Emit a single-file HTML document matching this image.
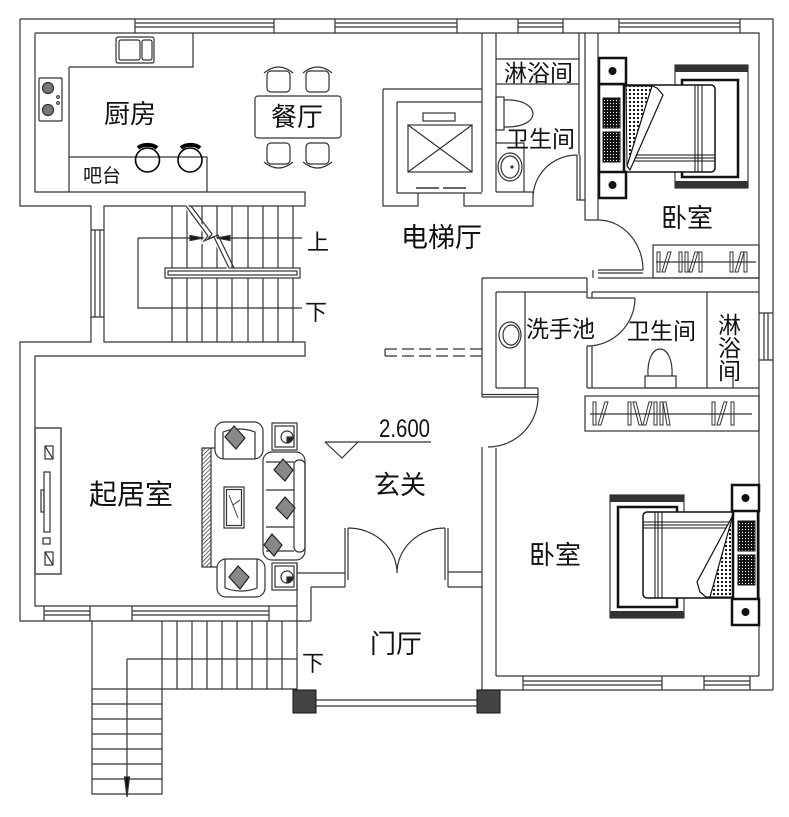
<!DOCTYPE html>
<html><head><meta charset="utf-8"><style>
html,body{margin:0;padding:0;background:#fff;}
svg{display:block}
text{font-family:"Liberation Sans","Noto Sans CJK SC",sans-serif;fill:#111}
</style></head><body>
<svg width="789" height="817" viewBox="0 0 789 817" xmlns="http://www.w3.org/2000/svg">
<defs>
<pattern id="dots" width="4" height="4" patternUnits="userSpaceOnUse"><rect width="4" height="4" fill="#fff"/><circle cx="2" cy="2" r="1.1" fill="#000"/></pattern>
<pattern id="dark" width="3" height="3" patternUnits="userSpaceOnUse"><rect width="3" height="3" fill="#111"/><circle cx="1.5" cy="1.5" r="0.6" fill="#fff"/></pattern>
<pattern id="hatch" width="3" height="3" patternUnits="userSpaceOnUse" patternTransform="rotate(45)"><rect width="3" height="3" fill="#fff"/><line x1="0" y1="0" x2="0" y2="3" stroke="#222" stroke-width="1.3"/></pattern>
</defs>
<rect width="789" height="817" fill="#fff"/>
<g fill="none" stroke="#333" stroke-width="1.2">
<!-- outer/inner walls -->
<path d="M20,19 H773 V690 M20,19 V206 H91 V342 H20 V621 H311
M35,33 H759 V676 M35,33 V192 H305 V206 H104 V342 H305 V356 H35 V606 H297
M135,19 V33 M274,19 V33 M135,23 H274 M135,27 H274
M335,19 V33 M457,19 V33 M335,23 H457 M335,27 H457
M518,19 V33 M563,19 V33 M518,23 H563 M518,27 H563
M619,19 V33 M740,19 V33 M619,23 H740 M619,27 H740
M95,230 V317 M100,230 V317 M91,230 H104 M91,317 H104
M44,606 V621 M90,606 V621 M132,606 V621 M269,606 V621 M44,611 H90 M44,615 H90 M132,611 H269 M132,615 H269
M759,313 H773 M759,360 H773 M764,313 V360 M768,313 V360
M496,676 H759 M482,690 H773
M523,676 V690 M662,676 V690 M523,681 H662 M523,685 H662
M704,676 V690 M750,676 V690 M704,681 H750 M704,685 H750"/>
<!-- entry -->
<path d="M297,563 V690 M297,573 H345 M311,587 H345 M311,587 V621 M345,528 V587 M348,528 V580 M445,528 V580 M448,528 V587 M448,572 H482 M448,587 H482
M348,528 A49,45 0 0 1 397,573 M445,528 A48,45 0 0 0 397,573
M316,700 H477 M316,706 H477"/>
<!-- elevator, baths -->
<path d="M482,33 V192 M496,33 V192
M383,89 H482 M383,89 V206 H418 V193 M464,193 V206 H533 V192 H496
M397,102 H482 M397,102 V193 H482
M579,33 V155 M585,33 V220 H598 M598,33 V220
M577,155 V200 H585 M580,155 V200
M577,155 A44,43 0 0 0 533,198
M496,59 H579 M496,84 H579
M496,143 H524 V192
M598,220 A45,50 0 0 1 643,270 M598,270 H643 M598,273 H643 M593,270 V278
M482,278 H587 M598,278 H759 M496,292 H587 M592,292 H759 M587,278 V298 M592,292 V298
M587,298 H635 M635,298 A48,48 0 0 1 587,346 M587,346 V388 M592,346 V388
M482,278 V397 M482,447 V690 M496,292 V388 M496,448 V676
M525,292 V388 M496,388 H538 M587,388 H759 M538,388 V397 M482,397 H538 M482,394.5 H538
M538,397 A50,50 0 0 1 488,447
M707,292 V388 M733,376 V388"/>
<rect x="408" y="125" width="64" height="47"/>
<path d="M408,125 L472,172 M472,125 L408,172"/>
<rect x="423" y="113" width="32" height="8"/>
<path d="M416,188 H439 M443,188 H466" stroke-width="1.6"/>
<!-- toilet upper -->
<rect x="496" y="97" width="8" height="33"/>
<path d="M504,100 C540,98 545,128 504,127"/>
<ellipse cx="510" cy="167" rx="12" ry="14"/>
<ellipse cx="510" cy="167" rx="9" ry="11"/>
<circle cx="512" cy="167" r="1" fill="#333"/>
<!-- lower washbasin -->
<ellipse cx="510" cy="335" rx="11" ry="13"/>
<ellipse cx="511" cy="335" rx="8" ry="10"/>
<!-- toilet lower -->
<rect x="645" y="376" width="31" height="12"/>
<path d="M648,376 C646,340 674,340 672,376"/>
<!-- wardrobes -->
<rect x="653" y="245" width="106" height="33"/>
<path d="M656,262 H756"/>
<rect x="585" y="396" width="174" height="35"/>
<path d="M590,414 H752"/>
<g stroke-width="1">
<rect x="657" y="252" width="3" height="20"/><polygon points="662,272 665,272 671,252 668,252"/>
<rect x="679" y="252" width="3" height="20"/><rect x="685" y="252" width="3" height="20"/><polygon points="689,272 692,272 698,252 695,252"/><rect x="699" y="252" width="3" height="20"/>
<rect x="730" y="252" width="3" height="20"/><polygon points="735,272 738,272 744,252 741,252"/><rect x="744" y="252" width="3" height="20"/>
<rect x="593" y="402" width="3" height="23"/><polygon points="598,425 601,425 608,402 605,402"/>
<rect x="628" y="402" width="3" height="23"/><polygon points="633,402 636,402 642,425 639,425"/><polygon points="643,425 646,425 652,402 649,402"/><rect x="654" y="402" width="3" height="23"/><rect x="660" y="402" width="3" height="23"/><polygon points="663,402 666,402 670,425 667,425"/>
<rect x="712" y="402" width="3" height="23"/><polygon points="717,425 720,425 727,402 724,402"/><rect x="731" y="402" width="3" height="23"/>
</g>
<!-- kitchen -->
<path d="M69,67 H193 V33 M69,67 V192 M69,157 H207 V192"/>
<rect x="116" y="37" width="38" height="26" rx="2"/>
<rect x="119" y="40" width="21" height="20" rx="2"/>
<rect x="142" y="40" width="10" height="20" rx="2"/>
<rect x="39" y="78" width="23" height="43" rx="1"/>
<circle cx="48" cy="88" r="5.5" fill="#777"/>
<circle cx="48" cy="110" r="5.5" fill="#777"/>
<circle cx="58" cy="97" r="1.3"/><circle cx="58" cy="103" r="1.3"/>
<circle cx="147.5" cy="160" r="12" stroke="#000" stroke-width="1.6"/>
<circle cx="190" cy="160" r="12" stroke="#000" stroke-width="1.6"/>
<path d="M138,148 A12,8 0 0 1 157,148 M181,148 A12,8 0 0 1 200,148" stroke="#000" stroke-width="4"/>
<!-- dining -->
<rect x="255" y="96" width="86" height="42" rx="3"/>
<rect x="267" y="71" width="23" height="21" rx="4"/><path d="M264,73 Q278.5,61 293,73"/>
<rect x="306" y="71" width="23" height="21" rx="4"/><path d="M303,73 Q317.5,61 332,73"/>
<rect x="267" y="143" width="23" height="21" rx="4"/><path d="M264,162 Q278.5,174 293,162"/>
<rect x="306" y="143" width="23" height="21" rx="4"/><path d="M303,162 Q317.5,174 332,162"/>
<!-- interior stairs -->
<path d="M172,206 V342 M187,206 V342 M202,206 V342 M217,206 V342 M232,206 V342 M248,206 V342 M263,206 V342 M278,206 V342 M293,206 V342"/>
<path d="M138,238 H302 M138,238 V308 H302"/>
<rect x="165" y="268" width="135" height="10" fill="#fff"/>
<rect x="168" y="271" width="129" height="4"/>
<polyline points="186,206 208,236 204,241 214,237 229,268" stroke="#fff" stroke-width="4"/>
<polyline points="186,206 208,236 204,241 214,237 229,268"/>
<polyline points="191,206 212,234 208,239 218,235 234,268"/>
<polygon points="190,235.5 190,240.5 203,238" fill="#111"/>
<polygon points="230,235.5 230,240.5 217,238" fill="#111"/>
<!-- outside stairs -->
<path d="M92,621 V794 H162 V621 M92,689 H297 M92,704 H162 M92,719 H162 M92,734 H162 M92,749 H162 M92,764 H162 M92,779 H162
M177,621 V689 M192,621 V689 M207,621 V689 M222,621 V689 M237,621 V689 M252,621 V689 M267,621 V689 M282,621 V689
M127,659 H297 M127,659 V790"/>
<polygon points="124.5,777 129.5,777 127,797" fill="#111"/>
<!-- lobby dashed -->
<path d="M385,349 V356" />
<path d="M385,349 H482 M385,356 H482" stroke-dasharray="12 5"/>
<!-- level mark -->
<path d="M325,442 H431 M325,442 L342,458 L358,442"/>
<!-- TV -->
<rect x="35" y="428" width="26" height="146" stroke="#555" stroke-width="1.6"/>
<rect x="45" y="446" width="8" height="13"/><path d="M45,446 L53,459"/>
<rect x="45" y="552" width="8" height="13"/><path d="M45,552 L53,565"/>
<rect x="44" y="472" width="6" height="60"/>
<rect x="41" y="490" width="3" height="22"/>
<rect x="43" y="538" width="7" height="6"/>
<!-- living furniture -->
<rect x="202" y="448" width="9" height="119" fill="url(#hatch)"/>
<path d="M211,448 H216 M211,567 H218"/>
<rect x="224" y="487" width="20" height="41"/>
<rect x="226.5" y="489.5" width="15" height="36"/>
<path d="M229,495 L238,518 M233,505 L240,500" stroke-width="0.9"/>
<rect x="215" y="422" width="48" height="37" rx="9" fill="#fff"/>
<path d="M223,459 V432 Q239,426 255,432 V459"/>
<polygon points="234,426 245,438 236,449 225,437" fill="#888" stroke="#222"/>
<rect x="217" y="559" width="48" height="38" rx="9" fill="#fff"/>
<path d="M225,559 V588 Q241,594 257,588 V559"/>
<polygon points="238,566 249,577 240,589 229,577" fill="#888" stroke="#222"/>
<rect x="272" y="423" width="25" height="27"/><rect x="275" y="426" width="19" height="21"/>
<circle cx="287" cy="437" r="6"/><path d="M287,437 H293 A6,6 0 0 1 287,443 Z" fill="#222"/>
<rect x="272" y="563" width="25" height="27"/><rect x="275" y="566" width="19" height="21"/>
<circle cx="287" cy="577" r="6"/><path d="M287,577 H293 A6,6 0 0 1 287,583 Z" fill="#222"/>
<rect x="263" y="452" width="42" height="108" rx="9" fill="#fff"/>
<rect x="294" y="460" width="11" height="92" rx="5"/>
<path d="M266,462 H294 M266,490 H294 M266,527 H294 M266,551 H294"/>
<polygon points="283,459 293,470 285,481 274,470" fill="#888" stroke="#222"/>
<polygon points="285,497 295,508 287,519 276,508" fill="#888" stroke="#222"/>
<polygon points="272,534 282,545 274,556 264,545" fill="#888" stroke="#222"/>
</g>
<!-- bed 1 -->
<g stroke="#111">
<rect x="675" y="65" width="73" height="123" fill="#fff" stroke-width="1"/>
<rect x="675" y="65" width="73" height="7" fill="#333" stroke="none"/>
<rect x="675" y="181" width="73" height="7" fill="#333" stroke="none"/>
<rect x="682" y="80" width="56" height="97" fill="#fff" stroke-width="2.5"/>
<rect x="623" y="85" width="92" height="87" rx="4" fill="#fff" stroke-width="1.5"/>
<path d="M695,85 V172 M698,85 V172 M702,85 V172 M627,155 H715 M627,158 H715 M627,161 H715" stroke-width="1"/>
<polygon points="626,86 652,86 627,166" fill="url(#dots)" stroke-width="1"/>
<polygon points="652,86 657,88 663,95 630,170 627,166" fill="#fff" stroke-width="1.2"/>
<rect x="599" y="84" width="25" height="89" fill="#fff" stroke-width="2.5"/>
<rect x="603" y="98" width="17" height="30" fill="url(#dark)" stroke-width="1"/>
<rect x="603" y="132" width="17" height="30" fill="url(#dark)" stroke-width="1"/>
<rect x="599" y="58" width="27" height="26" fill="#fff" stroke-width="2.5"/>
<rect x="599" y="172" width="27" height="26" fill="#fff" stroke-width="2.5"/>
<circle cx="612.5" cy="71" r="3.5" fill="#111"/>
<circle cx="612.5" cy="185" r="3.5" fill="#111"/>
</g>
<!-- bed 2 -->
<g stroke="#111">
<rect x="610" y="495" width="74" height="123" fill="#fff" stroke-width="1"/>
<rect x="610" y="495" width="74" height="7" fill="#333" stroke="none"/>
<rect x="610" y="611" width="74" height="7" fill="#333" stroke="none"/>
<rect x="618" y="507" width="59" height="100" fill="#fff" stroke-width="2.5"/>
<rect x="643" y="512" width="92" height="86" rx="4" fill="#fff" stroke-width="1.5"/>
<path d="M655,512 V598 M658,512 V598 M662,512 V598 M643,522 H733 M643,525 H733 M643,528 H733" stroke-width="1"/>
<polygon points="733,513 733,597 708,597" fill="url(#dots)" stroke-width="1"/>
<polygon points="733,515 697,582 700,592 706,597 710,597" fill="#fff" stroke-width="1.2"/>
<rect x="733" y="510" width="25" height="90" fill="#fff" stroke-width="2.5"/>
<rect x="738" y="521" width="17" height="30" fill="url(#dark)" stroke-width="1"/>
<rect x="738" y="555" width="17" height="30" fill="url(#dark)" stroke-width="1"/>
<rect x="732" y="485" width="27" height="26" fill="#fff" stroke-width="2.5"/>
<rect x="732" y="599" width="27" height="26" fill="#fff" stroke-width="2.5"/>
<circle cx="745.5" cy="498" r="3.5" fill="#111"/>
<circle cx="745.5" cy="612" r="3.5" fill="#111"/>
</g>
<!-- columns -->
<rect x="293" y="690" width="23" height="23" fill="#444" stroke="#111"/>
<rect x="477" y="690" width="23" height="23" fill="#444" stroke="#111"/>
<!-- labels -->
<text x="104" y="123" font-size="26">厨房</text>
<text x="271" y="126" font-size="26">餐厅</text>
<text x="83" y="182" font-size="19">吧台</text>
<text x="307" y="250" font-size="22">上</text>
<text x="305" y="320" font-size="22">下</text>
<text x="401" y="247" font-size="27">电梯厅</text>
<text x="504" y="81" font-size="23">淋浴间</text>
<text x="506" y="147" font-size="23">卫生间</text>
<text x="661" y="227" font-size="26">卧室</text>
<text x="526" y="337" font-size="23">洗手池</text>
<text x="627" y="339" font-size="23">卫生间</text>
<text x="718" y="333" font-size="23">淋</text>
<text x="718" y="356" font-size="23">浴</text>
<text x="718" y="379" font-size="23">间</text>
<text x="89" y="504" font-size="28">起居室</text>
<text x="374" y="494" font-size="26">玄关</text>
<text x="529" y="564" font-size="26">卧室</text>
<text x="370" y="653" font-size="26">门厅</text>
<text x="302" y="671" font-size="22">下</text>
<text x="379" y="437" font-size="25" textLength="51" lengthAdjust="spacingAndGlyphs" fill="#444">2.600</text>
</svg>
</body></html>
